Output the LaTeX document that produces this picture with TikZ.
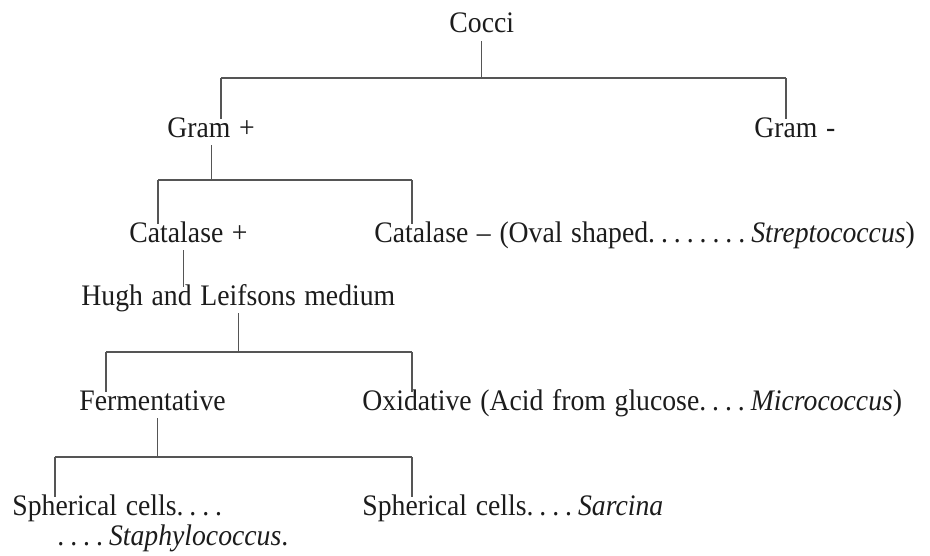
\documentclass[tikz,border=0pt]{standalone}
\usepackage{fontspec}
\setmainfont[FakeStretch=0.93,WordSpace=1.25]{Liberation Serif}
\usetikzlibrary{positioning,calc}
\definecolor{ink}{HTML}{1C1C1C}
\definecolor{rule}{HTML}{555555}
\newcommand\dt{.\kern.2em}
\tikzset{line width=.45pt,
  entry/.style={font=\fontsize{13}{14}\selectfont,text=ink,anchor=base west,
    inner xsep=0pt,inner ysep=1.3pt,text height=.65em,text depth=.22em},
  branch/.style={draw=rule,line width=.45pt},
  bar/.style={draw=rule,line width=.6pt}}
\begin{document}
\begin{tikzpicture}[x=0.01534cm,y=-0.01534cm]
\path[use as bounding box] (0,0) rectangle (930,556);
\node[entry] (cocci) at (449,33) {Cocci};
\node[entry] (gpos) at (167,137) {Gram +};\node[entry] (gneg) at (754,137) {Gram -};
\node[entry] (catp) at (129,242) {Catalase +};
\node[entry] (catn) at (374,242) {Catalase -- (Oval shaped\dt\dt\dt\dt\dt\dt\dt\dt\textit{Streptococcus})};
\node[entry] (hugh) at (81,305) {Hugh and Leifsons medium};
\node[entry] (ferm) at (79,410) {Fermentative};
\node[entry] (oxid) at (362,410) {Oxidative (Acid from glucose\dt\dt\dt\dt\textit{Micrococcus})};
\node[entry] (staph) at (12,515) {Spherical cells\dt\dt\dt\dt};
\node[entry] (staphb) at (57,545) {\dt\dt\dt\dt\textit{Staphylococcus}.};
\node[entry] (sarc) at (362,515) {Spherical cells\dt\dt\dt\dt\textit{Sarcina}};
\coordinate (b1l) at (221,78);\coordinate (b1r) at (786,78);
\coordinate (b2l) at (158,180);\coordinate (b2r) at (412,180);
\coordinate (b3l) at (106,352);\coordinate (b3r) at (412,352);
\coordinate (b4l) at (55,457);\coordinate (b4r) at (412,457);
\draw[branch] (cocci.south) -- (cocci.south |- b1l);\draw[bar] (b1l) -- (b1r);
\draw[branch] (b1l) -- (b1l |- gpos.north);\draw[branch] (b1r) -- (b1r |- gneg.north);
\draw[branch] (gpos.south) -- (gpos.south |- b2l);\draw[bar] (b2l) -- (b2r);
\draw[branch] (b2l) -- (b2l |- catp.north);\draw[branch] (b2r) -- (b2r |- catn.north);
\draw[branch] ([xshift=-2pt]catp.south) -- ([xshift=-2pt]catp.south |- hugh.north);
\draw[branch] (hugh.south) -- (hugh.south |- b3l);\draw[bar] (b3l) -- (b3r);
\draw[branch] (b3l) -- (b3l |- ferm.north);\draw[branch] (b3r) -- (b3r |- oxid.north);
\draw[branch] ([xshift=2pt]ferm.south) -- ([xshift=2pt]ferm.south |- b4l);\draw[bar] (b4l) -- (b4r);
\draw[branch] (b4l) -- (b4l |- staph.north);\draw[branch] (b4r) -- (b4r |- sarc.north);
\end{tikzpicture}
\end{document}
